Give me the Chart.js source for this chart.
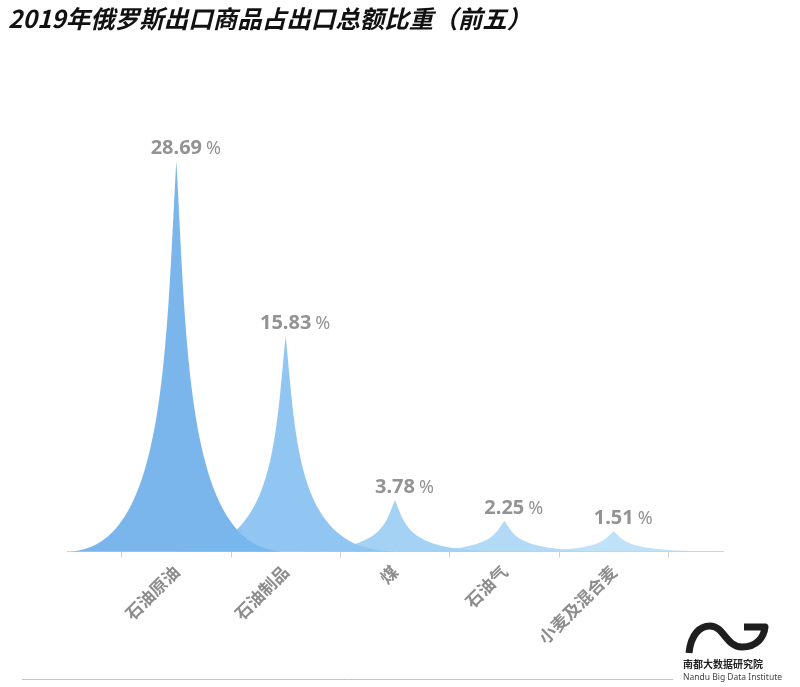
<!DOCTYPE html>
<html>
<head>
<meta charset="utf-8">
<script src="https://cdn.jsdelivr.net/npm/chart.js@4.4.1/dist/chart.umd.min.js"></script>
<style>
  html, body { margin: 0; padding: 0; background: #ffffff; }
  #c { display: block; }
</style>
</head>
<body>
<canvas id="c" width="800" height="687"></canvas>
<script>
// Top five export goods of Russia in 2019, share of total exports (%)
const categories = ['石油原油', '石油制品', '煤', '石油气', '小麦及混合麦'];
const shares = [28.69, 15.83, 3.78, 2.25, 1.51];
const spikeColors = [
  'rgba(89,164,231,0.8)',
  'rgba(119,184,239,0.8)',
  'rgba(141,199,241,0.8)',
  'rgba(159,209,244,0.8)',
  'rgba(176,219,246,0.8)'
];
const titleText = '2019年俄罗斯出口商品占出口总额比重（前五）';

// Tick positions: category centres carry the labels, half steps carry the tick marks
const tickValues = [];
for (let i = 0; i <= categories.length; i++) {
  tickValues.push(i - 0.5);
  if (i < categories.length) tickValues.push(i);
}

// Concave "spike" for each value, spreading one category step either side of its centre
const spikePlugin = {
  id: 'spikes',
  beforeDatasetsDraw(chart) {
    const { ctx, scales: { x, y } } = chart;
    const meta = chart.getDatasetMeta(0);
    const base = y.getPixelForValue(0);
    ctx.save();
    meta.data.forEach((pt, i) => {
      const cx = pt.x, top = pt.y;
      const hw = x.getPixelForValue(i + 1) - x.getPixelForValue(i);
      const h = base - top;
      ctx.beginPath();
      ctx.moveTo(cx - hw, base);
      ctx.lineTo(cx + hw, base);
      ctx.bezierCurveTo(cx + hw * 0.1, base, cx + hw * 0.1, base - h * 0.5, cx, top);
      ctx.bezierCurveTo(cx - hw * 0.1, base - h * 0.5, cx - hw * 0.1, base, cx - hw, base);
      ctx.closePath();
      ctx.fillStyle = spikeColors[i];
      ctx.fill();
    });
    ctx.restore();
  },
  afterDatasetsDraw(chart) {
    const { ctx } = chart;
    const meta = chart.getDatasetMeta(0);
    ctx.save();
    ctx.fillStyle = '#939393';
    ctx.textBaseline = 'alphabetic';
    meta.data.forEach((pt, i) => {
      const num = shares[i].toFixed(2);
      ctx.font = 'bold 20px "Noto Sans", "Open Sans", sans-serif';
      ctx.textAlign = 'center';
      const w = ctx.measureText(num).width;
      ctx.fillText(num, pt.x, pt.y - 7);
      ctx.font = '18px "Noto Sans", "Open Sans", sans-serif';
      ctx.textAlign = 'left';
      ctx.fillText('%', pt.x + w / 2 + 4, pt.y - 7);
    });
    ctx.restore();
  },
  afterDraw(chart) {
    const { ctx } = chart;
    ctx.save();
    // footer rule
    ctx.strokeStyle = '#c4c4c4';
    ctx.lineWidth = 1;
    ctx.beginPath();
    ctx.moveTo(22, 679.5);
    ctx.lineTo(673, 679.5);
    ctx.stroke();
    // institute mark
    ctx.strokeStyle = '#1e1e1e';
    ctx.lineWidth = 7;
    ctx.lineCap = 'butt';
    ctx.lineJoin = 'round';
    ctx.beginPath();
    ctx.moveTo(689, 653);
    ctx.bezierCurveTo(691, 634, 700, 626, 710, 626);
    ctx.bezierCurveTo(724, 626, 726, 647, 742, 647);
    ctx.bezierCurveTo(757, 647, 764, 637, 765, 627);
    ctx.lineTo(744, 627);
    ctx.stroke();
    ctx.fillStyle = '#222';
    ctx.textAlign = 'left';
    ctx.textBaseline = 'alphabetic';
    ctx.font = 'bold 10px "Noto Sans CJK SC", sans-serif';
    ctx.fillText('南都大数据研究院', 683, 668);
    ctx.fillStyle = '#444';
    ctx.font = '8.5px "Noto Sans", sans-serif';
    ctx.fillText('Nandu Big Data Institute', 683, 680);
    ctx.restore();
  }
};

new Chart(document.getElementById('c'), {
  type: 'scatter',
  data: {
    datasets: [{
      data: shares.map((v, i) => ({ x: i, y: v })),
      pointRadius: 0,
      pointHoverRadius: 0,
      showLine: false
    }]
  },
  options: {
    responsive: false,
    animation: false,
    events: [],
    layout: { padding: { left: 8, right: 77, top: 0, bottom: 35 } },
    plugins: {
      legend: { display: false },
      tooltip: { enabled: false },
      title: {
        display: true,
        text: titleText,
        align: 'start',
        color: '#111111',
        font: { family: '"Noto Sans CJK SC", sans-serif', size: 24.5, weight: 'bold', style: 'italic', lineHeight: 1.2 },
        padding: { top: 4, bottom: 10 }
      }
    },
    scales: {
      x: {
        type: 'linear',
        min: -1,
        max: 5,
        afterBuildTicks(scale) {
          scale.ticks = tickValues.map(v => ({ value: v }));
        },
        ticks: {
          autoSkip: false,
          minRotation: 45,
          maxRotation: 45,
          color: '#8c8c8c',
          padding: 4,
          font: { family: '"Noto Sans CJK SC", sans-serif', size: 17, weight: 'bold' },
          callback: v => Number.isInteger(v) ? categories[v] : ''
        },
        grid: {
          drawOnChartArea: false,
          tickLength: 6,
          tickColor: ctx => (ctx.tick && Number.isInteger(ctx.tick.value)) ? 'rgba(0,0,0,0)' : '#cfcfcf'
        },
        border: { display: true, color: '#d2d2d2', width: 1 }
      },
      y: {
        min: 0,
        max: 37.3,
        afterFit(scale) { scale.width = 59; },
        ticks: { display: false },
        grid: { display: false },
        border: { display: false }
      }
    }
  },
  plugins: [spikePlugin]
});
</script>
</body>
</html>
